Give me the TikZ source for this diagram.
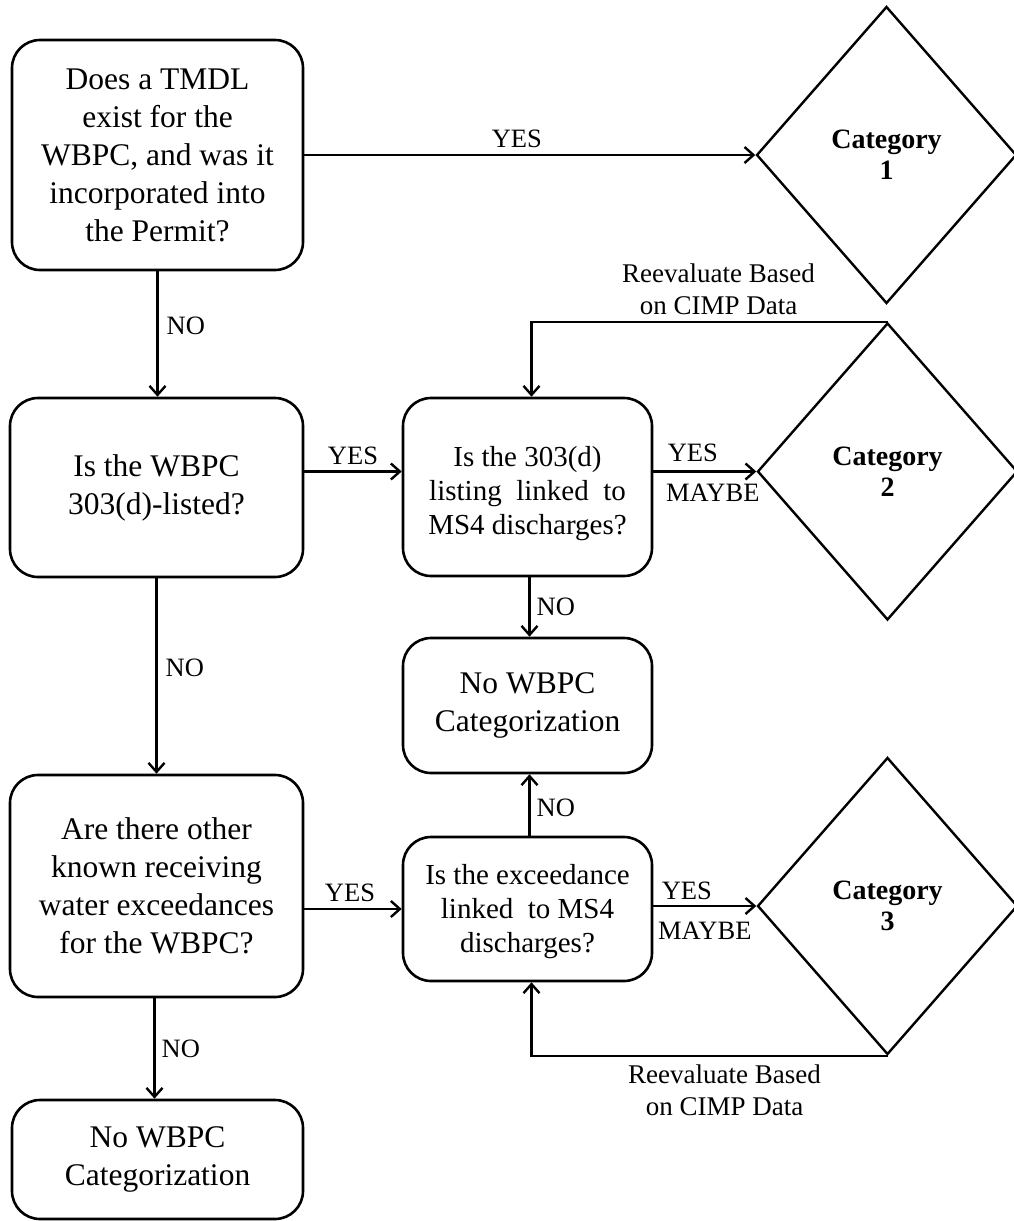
\documentclass[tikz,border=0pt]{standalone}
\usepackage{fontspec}
\setmainfont{Liberation Serif}
\usetikzlibrary{arrows.meta,shapes.geometric}
\begin{document}
\begin{tikzpicture}[x=1pt,y=-1pt,
  box/.style={draw, line width=2.6pt, rounded corners=28pt, align=center, inner sep=0pt},
  bigtxt/.style={font=\fontsize{31.5}{38}\selectfont},
  midtxt/.style={font=\fontsize{29}{34}\selectfont},
  cat/.style={draw, diamond, line width=2.4pt, minimum width=260pt, minimum height=297pt, inner sep=0pt, align=center, font=\fontsize{28}{31}\selectfont\bfseries},
  arr/.style={line width=2.4pt, -{Straight Barb[length=9pt,width=16pt,line width=2.4pt]}},
  lbl/.style={font=\fontsize{26.5}{28}\selectfont, inner sep=2pt},
  rlbl/.style={font=\fontsize{27}{32}\selectfont, align=center, inner sep=0pt}]
\useasboundingbox (0,0) rectangle (1013,1221);
% left column
\node[box, bigtxt, minimum width=291pt, minimum height=230pt] (A) at (157.5,155) {Does a TMDL\\exist for the\\WBPC, and was it\\incorporated into\\the Permit?};
\node[box, bigtxt, minimum width=293pt, minimum height=179pt] (B) at (156.5,487.5) {Is the WBPC\\303(d)-listed?};
\node[box, bigtxt, minimum width=293pt, minimum height=222pt] (C) at (156.5,886) {Are there other\\known receiving\\water exceedances\\for the WBPC?};
\node[box, bigtxt, minimum width=291pt, minimum height=119pt] (D) at (157.5,1159.5) {No WBPC\\Categorization};
% middle column
\node[box, midtxt, minimum width=249pt, minimum height=178pt] (E) at (527.5,487) {\rule{0pt}{33pt}Is the 303(d)\\listing\ \ linked\ \ to\\MS4 discharges?};
\node[box, bigtxt, minimum width=249pt, minimum height=135pt] (F) at (527.5,705.5) {No WBPC\\Categorization};
\node[box, midtxt, minimum width=249pt, minimum height=144pt] (G) at (527.5,909) {\rule{0pt}{26pt}Is the exceedance\\linked\ \ to MS4\\discharges?};
% diamonds
\node[cat] (D1) at (886.5,155) {Category\\1};
\node[cat] (D2) at (887.5,471.5) {Category\\2};
\node[cat] (D3) at (887.5,906) {Category\\3};
% connectors
\draw[arr] (A.east) -- node[lbl, above=4pt, xshift=-13pt] {YES} (D1.west);
\draw[arr] (A.south) -- node[lbl, right=6pt, yshift=8pt] {NO} (A.south |- B.north);
\draw[arr] (B.east |- D2) -- node[lbl, above=4pt] {YES} (E.west |- D2);
\draw[arr] (B.south) -- node[lbl, right=6pt, yshift=8pt] {NO} (B.south |- C.north);
\draw[arr] (E.east |- D2) -- node[lbl, above=7pt, xshift=-12pt] {YES} node[lbl, below=9pt, xshift=8pt] {MAYBE} (D2.west);
\draw[arr] ([xshift=2pt]E.south) -- node[lbl, right=4pt] {NO} ([xshift=2pt]E.south |- F.north);
\draw[arr] ([xshift=2pt]G.north) -- node[lbl, right=4pt, yshift=-3pt] {NO} ([xshift=2pt]G.north |- F.south);
\draw[arr] (C.east |- G) -- node[lbl, above=4pt, xshift=-3pt] {YES} (G.west);
\draw[arr] (G.east |- D3) -- node[lbl, above=3pt, xshift=-18pt] {YES} node[lbl, below=13pt] {MAYBE} (D3.west);
\draw[arr] ([xshift=-2pt]C.south) -- node[lbl, right=4pt] {NO} ([xshift=-2pt]C.south |- D.north);
\draw[arr] (D2.north) -- node[rlbl, yshift=33pt, xshift=9pt] {Reevaluate Based\\on CIMP Data} ([xshift=4pt]D2.north -| E.north) -- ([xshift=4pt]E.north);
\draw[arr] (D3.south) -- node[rlbl, yshift=-35pt, xshift=15pt] {Reevaluate Based\\on CIMP Data} ([xshift=4pt]D3.south -| G.south) -- ([xshift=4pt]G.south);
\end{tikzpicture}
\end{document}
